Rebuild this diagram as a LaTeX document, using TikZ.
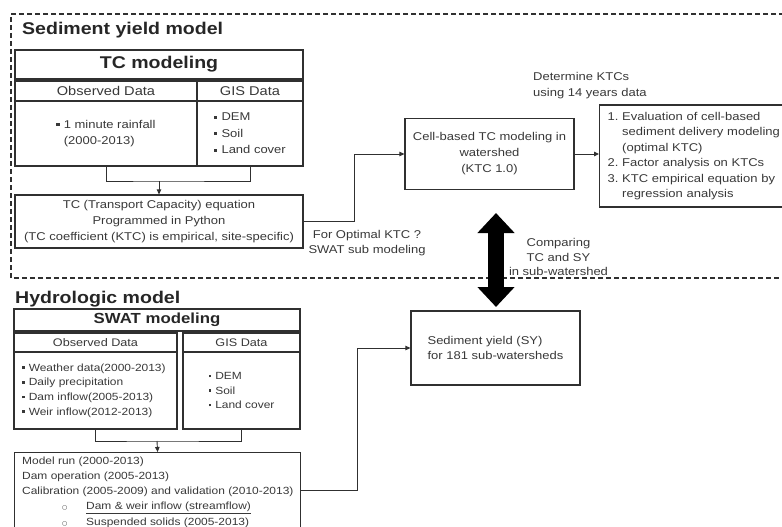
\documentclass[tikz,border=0pt]{standalone}
\usepackage{fontspec}
\setmainfont{Liberation Sans}[FakeStretch=1.15]
\newfontfamily\dejavu{DejaVu Sans}
\usetikzlibrary{arrows.meta}
\definecolor{txt}{HTML}{383838}
\definecolor{ln}{HTML}{303030}
\newcommand\bul{\raisebox{0.2em}{\rule{0.27em}{0.27em}}\hspace{0.38em}}
\newcommand\fsz[2]{\fontsize{#1}{#2}\selectfont}
\newcommand\circl{\makebox[24pt][l]{\dejavu\fsz{6}{6}○}}
\begin{document}
\begin{tikzpicture}[x=1pt,y=-1pt,
  box/.style={draw=ln, line width=1.2pt, rectangle, inner sep=0pt, text=txt},
  conn/.style={draw=ln, line width=0.9pt},
  arr/.style={conn, -{Triangle[length=5pt,width=4.5pt]}},
  lbl/.style={text=txt, inner sep=0pt},
  ttl/.style={lbl, anchor=base west, font=\bfseries\fsz{17}{20}, text=black!85}]
\useasboundingbox (0,0) rectangle (782,527);

% dashed frame of sediment yield model
\draw[ln, line width=1.6pt, dash pattern=on 5pt off 3pt] (800,14) -- (11,14) -- (11,278) -- (800,278);

% ---------- Sediment yield model ----------
\node[ttl] (t1) at (22,35) {Sediment yield model};
\node[box, line width=1.5pt, minimum width=288, minimum height=29, font=\bfseries\fsz{17}{20}, text=black!85] (tcm) at (159,64.5) {TC modeling};
\node[box, minimum width=182, minimum height=20, font=\fsz{12.7}{15}] (oh1) at (106,91) {Observed Data};
\node[box, minimum width=106, minimum height=20, font=\fsz{12.7}{15}] (gh1) at (250,91) {GIS Data};
\node[box, minimum width=182, minimum height=65, align=left, font=\fsz{11.3}{16.5}] (ob1) at (106,133.5) {\bul 1 minute rainfall\\\phantom{\bul}(2000-2013)};
\node[box, minimum width=106, minimum height=65, align=left, font=\fsz{11.3}{16.5}] (gb1) at (250,133.5) {\bul DEM\\\bul Soil\\\bul Land cover};
\node[box, minimum width=288, minimum height=53, align=center, font=\fsz{11.3}{16}] (tceq) at (159,221.5) {TC (Transport Capacity) equation\\Programmed in Python\\(TC coefficient (KTC) is empirical, site-specific)};
\coordinate (j1) at (159,181);
\draw[conn] (ob1.south) |- (j1) -| (gb1.south);
\draw[arr] (j1) -- (tceq.north);

\node[box, minimum width=169, minimum height=71, align=center, font=\fsz{11.3}{16}] (cell) at (489.5,154) {Cell-based TC modeling in\\watershed\\(KTC 1.0)};
\draw[arr] (tceq.east) -- ++(51,0) |- (cell.west);
\node[lbl, align=center, font=\fsz{11.3}{14.5}] (lopt) at (367,243) {For Optimal KTC ?\\SWAT sub modeling};

\node[box, anchor=west, minimum height=102, inner xsep=8pt, text width=184, align=left, font=\fsz{11.3}{15.5}] (rbox) at (599,156) {\begin{tabular}{@{}l@{\ }l@{}}1.&Evaluation of cell-based\\&sediment delivery modeling\\&(optimal KTC)\\2.&Factor analysis on KTCs\\3.&KTC empirical equation by\\&regression analysis\end{tabular}};
\draw[arr] (cell.east) -- (cell.east -| rbox.west);
\node[lbl, anchor=west, align=left, font=\fsz{11.3}{16}] (ldet) at (533,86) {Determine KTCs\\using 14 years data};

\node[lbl, align=center, font=\fsz{11.3}{14.5}] (lcmp) at (558.5,257) {Comparing\\TC and SY\\in sub-watershed};

% ---------- Hydrologic model ----------
\node[ttl] (t2) at (15,303) {Hydrologic model};
\node[box, line width=1.5pt, minimum width=286, minimum height=22, font=\bfseries\fsz{14.6}{17}, text=black!85] (swat) at (157,320) {SWAT modeling};
\node[box, minimum width=163, minimum height=19, font=\fsz{11}{13}] (oh2) at (95.5,342.5) {Observed Data};
\node[box, minimum width=117, minimum height=19, font=\fsz{11}{13}] (gh2) at (241.5,342.5) {GIS Data};
\node[box, minimum width=163, minimum height=77, inner xsep=8pt, text width=147, align=left, font=\fsz{10.4}{14.7}] (ob2) at (95.5,390.5) {\bul Weather data(2000-2013)\\\bul Daily precipitation\\\bul Dam inflow(2005-2013)\\\bul Weir inflow(2012-2013)};
\node[box, minimum width=117, minimum height=77, align=left, font=\fsz{10.4}{14.5}] (gb2) at (241.5,390.5) {\bul DEM\\\bul Soil\\\bul Land cover};
\node[box, anchor=north west, minimum width=286, minimum height=100] (bot) at (14,452) {};
\coordinate (j2) at (157,441);
\draw[conn] (ob2.south) |- (j2) -| (gb2.south);
\draw[arr] (j2) -- (bot.north);
\node[lbl, anchor=west, align=left, font=\fsz{10.4}{15.2}] (bt) at (22,493) {Model run (2000-2013)\\Dam operation (2005-2013)\\Calibration (2005-2009) and validation (2010-2013)\\\hspace*{40pt}\circl\underline{Dam \& weir inflow (streamflow)}\\\hspace*{40pt}\circl\underline{Suspended solids (2005-2013)}};
\coordinate (bout) at (300,490);

\node[box, minimum width=169, minimum height=74, align=left, font=\fsz{11.3}{15}] (sy) at (495.5,348) {Sediment yield (SY)\\for 181 sub-watersheds};
\draw[arr] (bout) -- ++(57,0) |- (sy.west);

% big double arrow
\coordinate (da) at (496,213);
\coordinate (db) at (496,307);
\draw[line width=16pt, black, {Triangle[width=36pt,length=20pt]}-{Triangle[width=36pt,length=20pt]}] (da) -- (db);
\end{tikzpicture}
\end{document}
